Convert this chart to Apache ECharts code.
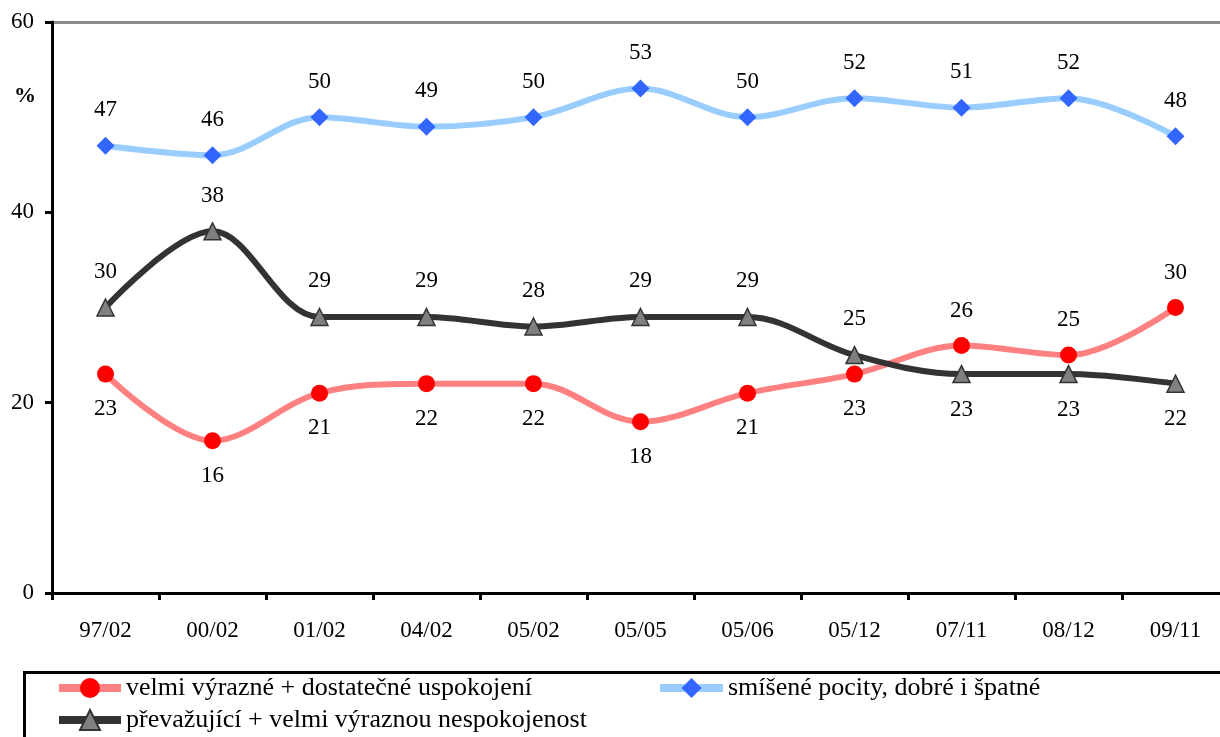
<!DOCTYPE html>
<html><head><meta charset="utf-8">
<script src="https://cdn.jsdelivr.net/npm/echarts@6/dist/echarts.min.js"></script>
<style>html,body{margin:0;padding:0;background:#fff}#c{width:1220px;height:737px}</style>
</head><body><div id="c"></div>
<script>
const categories = ['97/02','00/02','01/02','04/02','05/02','05/05','05/06','05/12','07/11','08/12','09/11'];
const seriesNames = ['velmi výrazné + dostatečné uspokojení','smíšené pocity, dobré i špatné','převažující + velmi výraznou nespokojenost'];
const satisfied = [23,16,21,22,22,18,21,23,26,25,30];
const mixed = [47,46,50,49,50,53,50,52,51,52,48];
const dissatisfied = [30,38,29,29,28,29,29,25,23,23,22];
const yTicks = [0,20,40,60];

const FONT = '"Liberation Serif", "Times New Roman", serif';
const FS = 23;
const redPos = ['bottom','bottom','bottom','bottom','bottom','bottom','bottom','bottom','top','top','top'];
const darkPos = ['top','top','top','top','top','top','top','top','bottom','bottom','bottom'];

function mk(vals, pos){
  return vals.map((v,i)=>({value:v,label:{position:pos?pos[i]:'top'}}));
}
const lbl = {show:true,color:'#000',fontFamily:FONT,fontSize:FS,distance:15};
const legText = {fontFamily:FONT,fontSize:26,color:'#000',padding:[0,0,0,0]};

const chart = echarts.init(document.getElementById('c'));
chart.setOption({
  animation:false,
  backgroundColor:'#fff',
  grid:{left:52,top:22,width:1177,bottom:144,containLabel:false,outerBoundsMode:'none'},
  xAxis:{type:'category',data:categories,boundaryGap:true,
    axisLine:{lineStyle:{color:'#000',width:3}},
    axisTick:{show:true,length:7,lineStyle:{color:'#000',width:3},alignWithLabel:false},
    axisLabel:{color:'#000',fontFamily:FONT,fontSize:FS,margin:26}},
  yAxis:{type:'value',min:yTicks[0],max:yTicks[yTicks.length-1],interval:20,
    axisLine:{show:true,lineStyle:{color:'#000',width:3}},
    axisTick:{show:true,length:7,lineStyle:{color:'#000',width:3}},
    axisLabel:{color:'#000',fontFamily:FONT,fontSize:FS,margin:18},
    splitLine:{show:false}},
  legend:[
    {data:[seriesNames[0]],left:55,top:675,padding:0,itemWidth:62,itemHeight:25,textStyle:legText,lineStyle:{width:8}},
    {data:[seriesNames[1]],left:656,top:675,padding:0,itemWidth:63,itemHeight:25,textStyle:legText,lineStyle:{width:8}},
    {data:[seriesNames[2]],left:55,top:707,padding:0,itemWidth:62,itemHeight:25,textStyle:legText,lineStyle:{width:8}}
  ],
  graphic:[
    {type:'rect',left:22,top:670,shape:{width:1220,height:80},style:{fill:'none',stroke:'#000',lineWidth:3},z:-1},
    {type:'line',shape:{x1:52,y1:22.5,x2:1220,y2:22.5},style:{stroke:'#8c8c8c',lineWidth:3},z:-1},
    {type:'text',left:14,top:85,style:{text:'%',font:'bold 22px '+FONT,fill:'#000'}}
  ],
  series:[
    {name:seriesNames[0],type:'line',data:mk(satisfied,redPos),smooth:0.35,
      lineStyle:{color:'#ff8080',width:6},itemStyle:{color:'#ff0000'},
      symbol:'circle',symbolSize:17,label:lbl,z:3},
    {name:seriesNames[1],type:'line',data:mk(mixed),smooth:0.35,
      lineStyle:{color:'#99ccff',width:6},itemStyle:{color:'#3366ff'},
      symbol:'diamond',symbolSize:[18,18],label:lbl,z:3},
    {name:seriesNames[2],type:'line',data:mk(dissatisfied,darkPos),smooth:0.35,
      lineStyle:{color:'#333333',width:6},itemStyle:{color:'#808080',borderColor:'#333',borderWidth:1.5},
      symbol:'triangle',symbolSize:17,label:lbl,z:3}
  ]
});
</script></body></html>
